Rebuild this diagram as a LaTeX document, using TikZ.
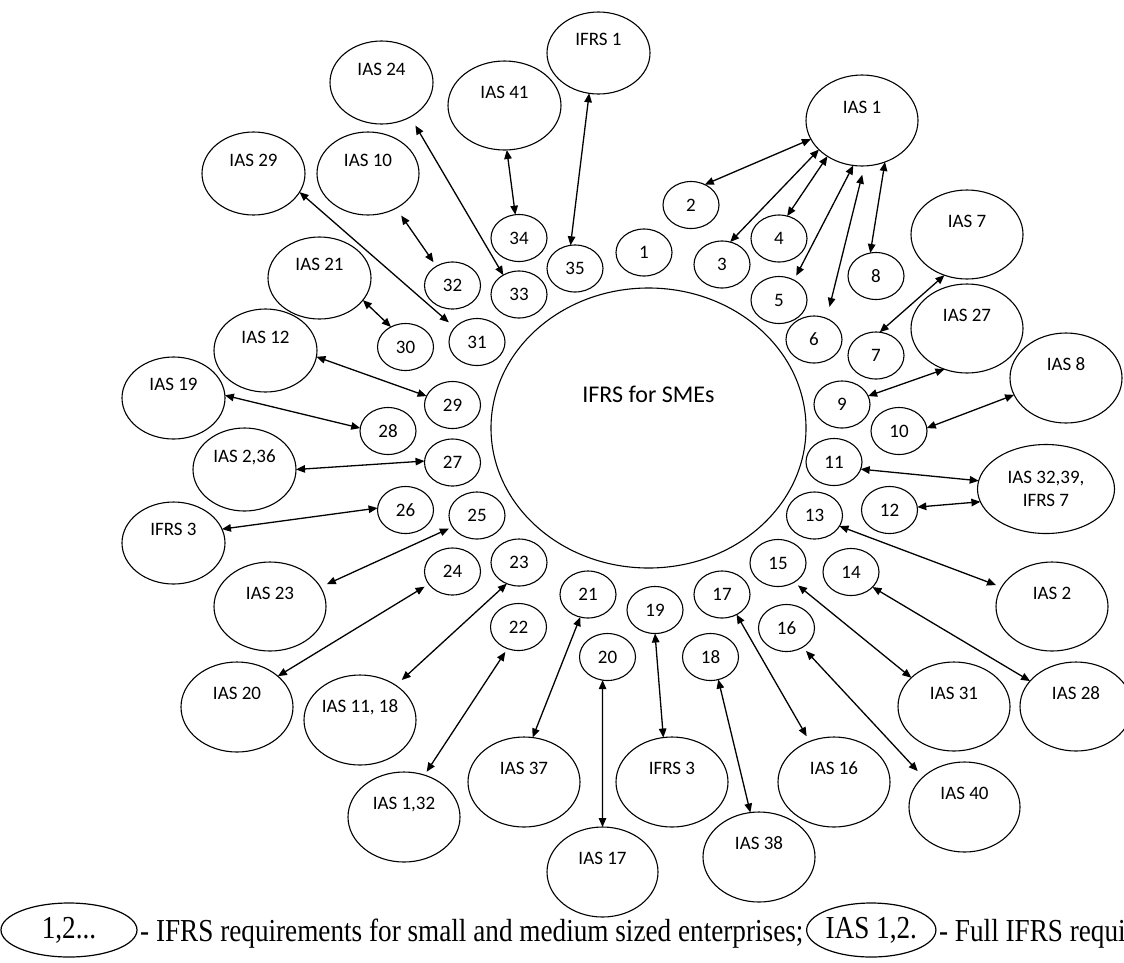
\documentclass[tikz,border=0pt]{standalone}
\usepackage{fontspec}
\setmainfont{Carlito}
\newfontfamily\legfont[FakeStretch=0.85]{Liberation Serif}
\usetikzlibrary{shapes.geometric,arrows.meta}
\begin{document}
\begin{tikzpicture}[x=1pt,y=-1pt,
  ell/.style={ellipse, draw, line width=1.1pt, inner sep=0pt, outer sep=0pt, font=\fontsize{19}{23}\selectfont},
  sm/.style={ell, minimum width=56pt, minimum height=47pt},
  bg/.style 2 args={ell, minimum width=#1pt, minimum height=#2pt, text height=12pt, text depth=27pt},
  arr/.style={line width=1.3pt, {Triangle[length=9pt,width=7.5pt]}-{Triangle[length=9pt,width=7.5pt]}},
  legtext/.style={inner sep=0pt, font=\legfont\fontsize{32}{36}\selectfont},
  legell/.style={ellipse, draw, line width=1.2pt, inner sep=0pt, outer sep=0pt, minimum height=54pt, font=\legfont\fontsize{32}{36}\selectfont}
]
\useasboundingbox (0,0) rectangle (1124,962);

% centre
\node[ell, minimum width=315pt, minimum height=280pt, font=\fontsize{24}{28}\selectfont, text height=15.5pt, text depth=66pt] (sme) at (648.5,428) {IFRS for SMEs};

% small circles
\node[sm] (n1) at (644,252.5) {1};
\node[sm] (n2) at (691,205) {2};
\node[sm] (n3) at (722,264.5) {3};
\node[sm] (n4) at (779,238.5) {4};
\node[sm] (n5) at (779,300) {5};
\node[sm] (n6) at (814,339.5) {6};
\node[sm] (n7) at (876,355.5) {7};
\node[sm] (n8) at (876,276) {8};
\node[sm] (n9) at (842,404.5) {9};
\node[sm] (n10) at (899,431) {10};
\node[sm] (n11) at (834,462) {11};
\node[sm] (n12) at (889.5,510) {12};
\node[sm] (n13) at (814.5,515.5) {13};
\node[sm] (n14) at (851,572) {14};
\node[sm] (n15) at (778,563) {15};
\node[sm] (n16) at (786.5,628) {16};
\node[sm] (n17) at (722,594.5) {17};
\node[sm] (n18) at (710.5,657) {18};
\node[sm] (n19) at (655,610) {19};
\node[sm] (n20) at (607.5,657) {20};
\node[sm] (n21) at (588,594.5) {21};
\node[sm] (n22) at (518.5,627) {22};
\node[sm] (n23) at (519,562.5) {23};
\node[sm] (n24) at (452.5,571.5) {24};
\node[sm] (n25) at (477,515.5) {25};
\node[sm] (n26) at (405.5,510) {26};
\node[sm] (n27) at (452.5,462.5) {27};
\node[sm] (n28) at (388,431) {28};
\node[sm] (n29) at (452.5,405) {29};
\node[sm] (n30) at (405.5,347) {30};
\node[sm] (n31) at (477,342) {31};
\node[sm] (n32) at (452.5,285.5) {32};
\node[sm] (n33) at (519,294.5) {33};
\node[sm] (n34) at (519,238) {34};
\node[sm] (n35) at (575,268.5) {35};

% big ellipses
\node[bg={112}{91}] (ias1) at (862,120.5) {IAS 1};
\node[bg={103}{82}] (ifrs1) at (598.5,53) {IFRS 1};
\node[bg={113}{89}] (ias41) at (504.5,105.5) {IAS 41};
\node[bg={103}{83}] (ias24) at (381.5,82.5) {IAS 24};
\node[bg={103}{83}] (ias29) at (253.5,173.5) {IAS 29};
\node[bg={102}{83}] (ias10) at (368,173.5) {IAS 10};
\node[bg={103}{82}] (ias21) at (319.5,278) {IAS 21};
\node[bg={103}{83}] (ias12) at (265.5,350.5) {IAS 12};
\node[bg={103}{82}] (ias19) at (173.5,398) {IAS 19};
\node[bg={103}{83}] (ias236) at (244.5,469.5) {IAS 2,36};
\node[bg={103}{82}] (ifrs3l) at (173.5,543) {IFRS 3};
\node[bg={112}{89}] (ias23) at (270,606.5) {IAS 23};
\node[bg={112}{90}] (ias20) at (237,707) {IAS 20};
\node[bg={112}{90}] (ias1118) at (360,720) {IAS 11, 18};
\node[bg={112}{90}] (ias132) at (404,817) {IAS 1,32};
\node[bg={112}{90}] (ias37) at (524,782) {IAS 37};
\node[bg={111}{90}] (ias17) at (602.5,872) {IAS 17};
\node[bg={112}{90}] (ifrs3b) at (672,782) {IFRS 3};
\node[bg={112}{90}] (ias38) at (759,857) {IAS 38};
\node[bg={112}{90}] (ias16) at (834,782) {IAS 16};
\node[bg={111}{90}] (ias40) at (964.5,807) {IAS 40};
\node[bg={112}{89}] (ias31) at (954,706.5) {IAS 31};
\node[bg={112}{89}] (ias28) at (1076,706.5) {IAS 28};
\node[bg={112}{89}] (ias2) at (1052,606.5) {IAS 2};
\node[ell, minimum width=137pt, minimum height=89pt, align=center] (ias3239) at (1046,489) {IAS 32,39,\\IFRS 7};
\node[bg={112}{90}] (ias8) at (1066,378) {IAS 8};
\node[bg={112}{89}] (ias27) at (967,328.5) {IAS 27};
\node[bg={112}{89}] (ias7) at (967,234.5) {IAS 7};

% connectors
\draw[arr] (ias1.200) -- (n2.56);
\draw[arr] (ias1.214) -- (n3.70);
\draw[arr] (ias1.226) -- (n4.70);
\draw[arr, shorten >=5pt] (ias1.259) -- (n5.53);
\draw[arr, shorten <=9pt, shorten >=12pt] (ias1.273) -- (n6.59);
\draw[arr] (ias1.299) -- (n8.104);
\draw[arr] (ias7.241) -- (n7.81);
\draw[arr] (ifrs1.257) -- (n35.101);
\draw[arr] (ias41.273) -- (n34.99);
\draw[arr, shorten <=10pt] (ias24.310) -- (n33.129);
\draw[arr, shorten >=8pt] (ias29.338) -- (n31.147);
\draw[arr, shorten <=9pt, shorten >=5pt] (ias10.309) -- (n32.130);
\draw[arr] (ias21.333) -- (n30.126);
\draw[arr] (ias12.353) -- (n29.161);
\draw[arr] (ias19.3) -- (n28.174);
\draw[arr] (ias236.0) -- (n27.177);
\draw[arr] (ifrs3l.16) -- (n26.176);
\draw[arr, shorten <=7pt, shorten >=4pt] (ias23.21.5) -- (n25.205);
\draw[arr, shorten >=5pt] (ias20.37) -- (n24.208);
\draw[arr, shorten <=8pt] (ias1118.44) -- (n23.240);
\draw[arr, shorten <=4pt, shorten >=4pt] (ias132.64) -- (n22.243);
\draw[arr] (ias37.79) -- (n21.251);
\draw[arr] (ias17.90) -- (n20.258);
\draw[arr] (ifrs3b.101) -- (n19.270);
\draw[arr] (ias38.101) -- (n18.289);
\draw[arr, shorten <=6pt] (ias16.121) -- (n17.306);
\draw[arr, shorten <=8pt, shorten >=5pt] (ias40.144) -- (n16.310);
\draw[arr, shorten >=5pt] (ias31.146) -- (n15.310);
\draw[arr] (ias28.151) -- (n14.325);
\draw[arr, shorten <=6pt] (ias2.159) -- (n13.337);
\draw[arr] (ias3239.173) -- (n11.345);
\draw[arr] (ias3239.191) -- (n12.6);
\draw[arr] (ias8.198) -- (n10.6);
\draw[arr] (ias27.241) -- (n9.18);

% legend
\node[legell, minimum width=136pt] (leg1) at (69,930) {1,2...};
\node[legtext, anchor=base west] (legt1) at (140,941) {- IFRS requirements for small and medium sized enterprises;};
\node[legell, minimum width=125pt, anchor=west] (leg2) at ([xshift=3pt]legt1.east |- leg1.center) {IAS 1,2.};
\node[legtext, anchor=base west] (legt2) at ([xshift=3pt]leg2.east |- legt1.base) {- Full IFRS requi};
\end{tikzpicture}
\end{document}
